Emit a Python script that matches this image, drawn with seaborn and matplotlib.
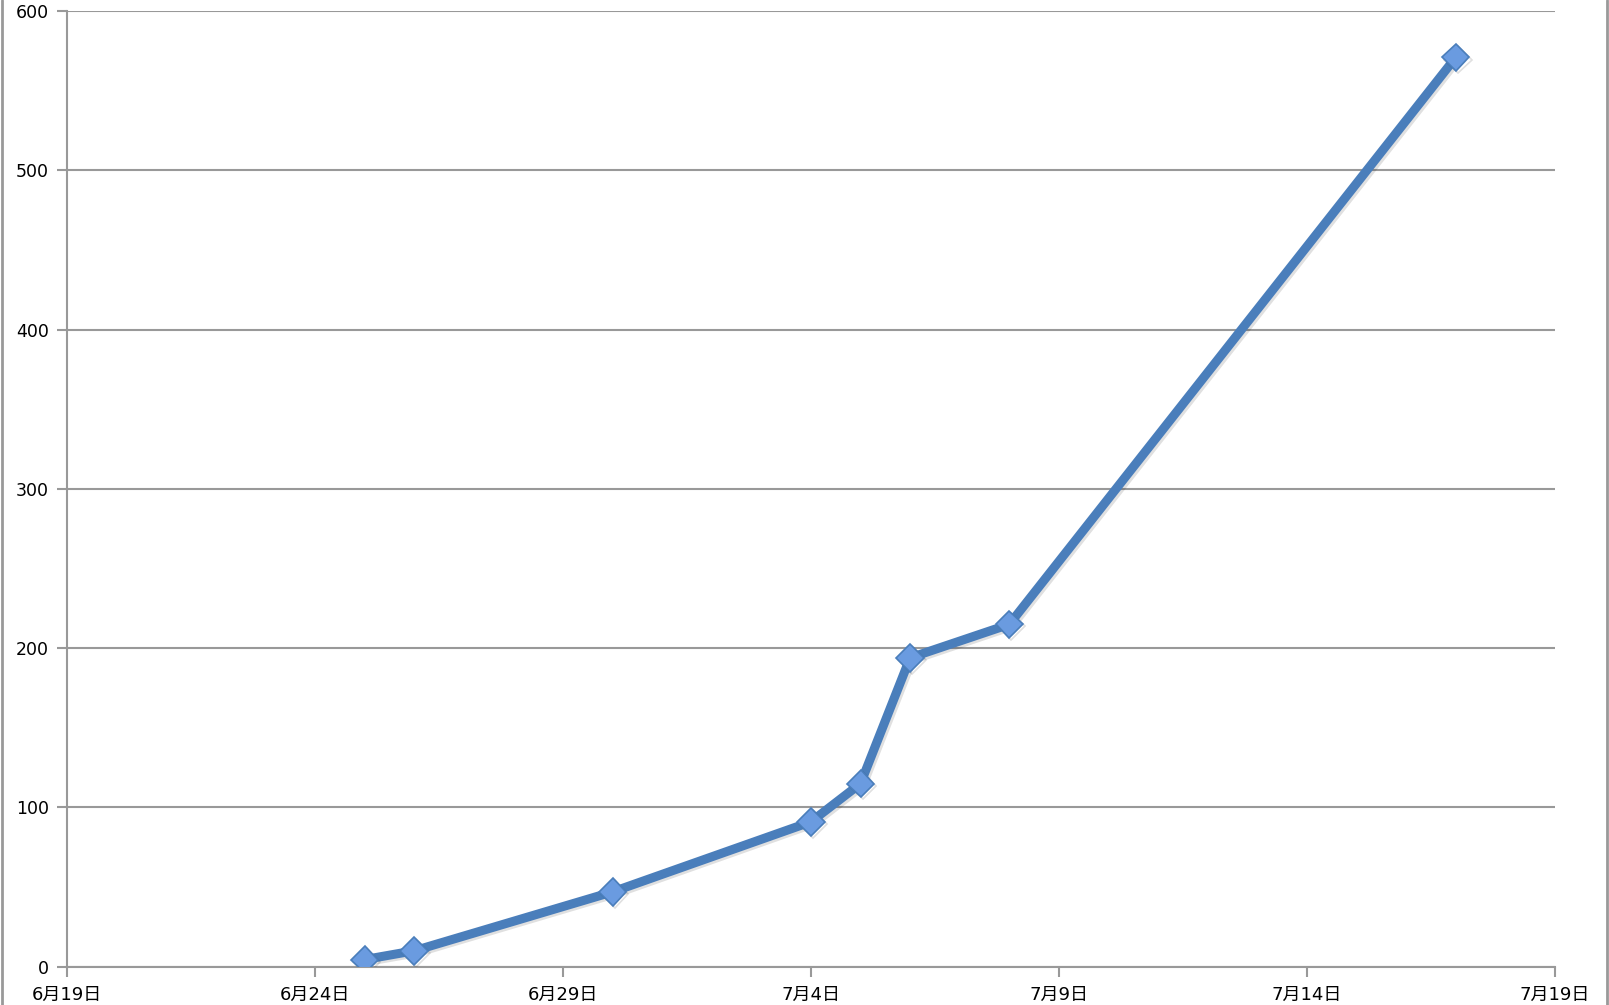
import matplotlib
matplotlib.use("Agg")
import matplotlib.pyplot as plt
import matplotlib.patheffects as pe
from matplotlib.lines import Line2D
import pandas as pd
import seaborn as sns

# data
dates = ["2012-06-25", "2012-06-26", "2012-06-30", "2012-07-04",
         "2012-07-05", "2012-07-06", "2012-07-08", "2012-07-17"]
counts = [4.5, 10, 47, 91, 115, 194, 215, 571]
tick_dates = ["2012-06-19", "2012-06-24", "2012-06-29", "2012-07-04",
              "2012-07-09", "2012-07-14", "2012-07-19"]
tick_labels = ["6月19日", "6月24日", "6月29日", "7月4日", "7月9日", "7月14日", "7月19日"]
y_ticks = [0, 100, 200, 300, 400, 500, 600]

df = pd.DataFrame({"date": pd.to_datetime(dates), "count": counts})

sns.set_style("white")
plt.rcParams['font.family'] = ['DejaVu Sans', 'Noto Sans CJK JP']

fig = plt.figure(figsize=(16.09, 10.05), dpi=100)
ax = fig.add_axes([0.0416, 0.0381, 0.9248, 0.9507])

sns.lineplot(data=df, x="date", y="count", ax=ax, color="#4a7ebb", linewidth=6.5,
             marker="D", markersize=14, markerfacecolor="#6a9be0",
             markeredgecolor="#4a7ebb", markeredgewidth=1.2,
             path_effects=[pe.SimpleLineShadow(offset=(1.5, -1.5), alpha=0.12), pe.Normal()],
             zorder=3)

ax.set_xlim(pd.Timestamp(tick_dates[0]), pd.Timestamp(tick_dates[-1]))
ax.set_ylim(0, 600)
ax.set_xticks(pd.to_datetime(tick_dates))
ax.set_xticklabels(tick_labels, fontsize=13)
ax.set_yticks(y_ticks)
ax.set_yticklabels([str(v) for v in y_ticks], fontsize=12.5)
ax.set_xlabel("")
ax.set_ylabel("")

ax.grid(axis="y", color="#999999", linewidth=1.5)
ax.set_axisbelow(True)
for s in ["top", "right"]:
    ax.spines[s].set_visible(False)
for s in ["left", "bottom"]:
    ax.spines[s].set_color("#999999")
    ax.spines[s].set_linewidth(1.5)
ax.tick_params(axis="both", direction="out", length=7, width=1.5, color="#999999",
               labelcolor="black", bottom=True, left=True)
ax.tick_params(axis="x", pad=7)
ax.tick_params(axis="y", pad=6)

# outer frame lines at the left and right edges
fig.add_artist(Line2D([0.0015, 0.0015], [0, 1], transform=fig.transFigure, color="#999999", linewidth=2))
fig.add_artist(Line2D([0.9985, 0.9985], [0, 1], transform=fig.transFigure, color="#999999", linewidth=2))

fig.savefig("out.png", dpi=100)
